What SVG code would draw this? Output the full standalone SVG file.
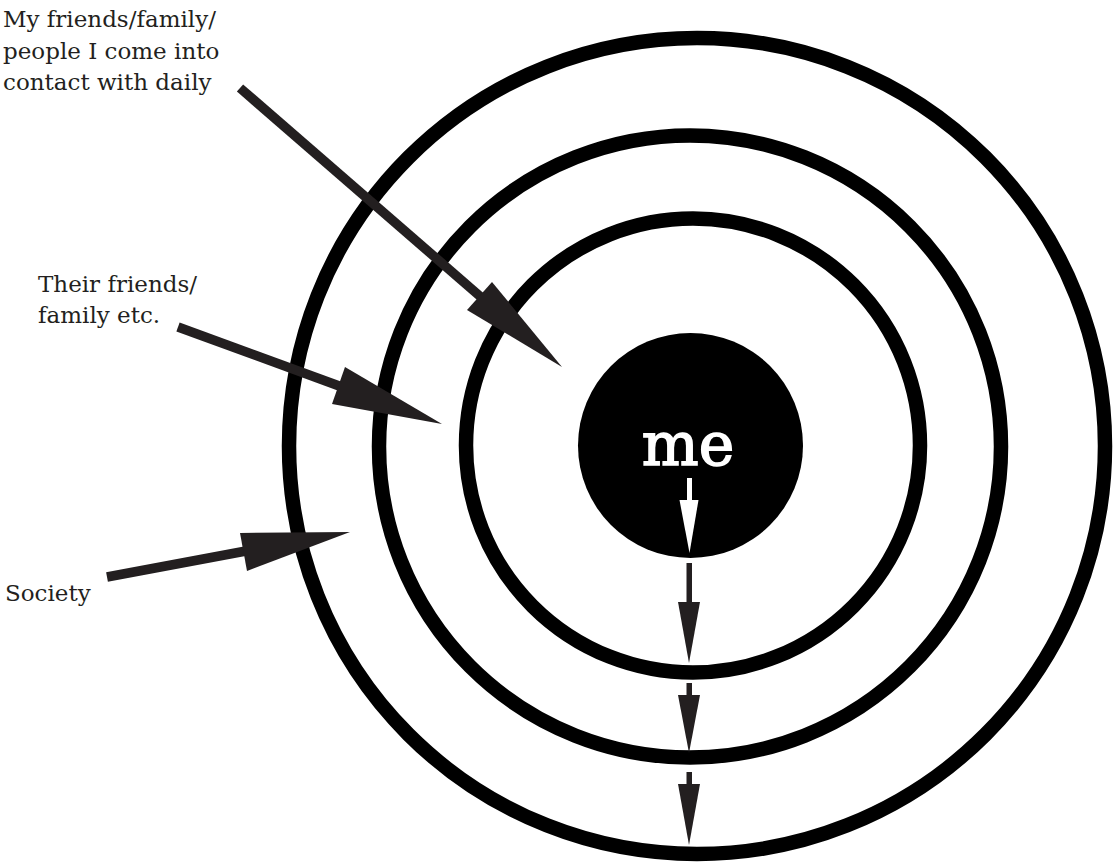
<svg xmlns="http://www.w3.org/2000/svg" width="1113" height="864" viewBox="0 0 1113 864">
<style>
.ring{fill:none;stroke:#000;stroke-width:14.5}
.lbl{font-family:"DejaVu Serif","Liberation Serif",serif;font-size:23px;fill:#231f20}
.shaft{stroke:#231f20;stroke-width:9.5;fill:none}
.head{fill:#231f20}
.sshaft{fill:#231f20}
</style>
<rect width="1113" height="864" fill="#fff"/>
<g id="ring-society"><circle class="ring" cx="697" cy="446" r="408"/></g>
<g id="ring-their"><circle class="ring" cx="690" cy="446.5" r="311"/></g>
<g id="ring-friends"><circle class="ring" cx="693" cy="445.5" r="227"/></g>
<g id="me">
<circle cx="690.5" cy="445.5" r="112.5" fill="#000"/>
<text x="688" y="465" text-anchor="middle" font-family="DejaVu Serif,'Liberation Serif',serif" font-size="60" fill="#fff" stroke="#fff" stroke-width="1.6">me</text>
</g>
<g id="label-friends">
<text class="lbl" x="3" y="27">My friends/family/</text>
<text class="lbl" x="3" y="58.5">people I come into</text>
<text class="lbl" x="3" y="90">contact with daily</text>
</g>
<g id="label-their">
<text class="lbl" x="38" y="292">Their friends/</text>
<text class="lbl" x="38" y="323">family etc.</text>
</g>
<g id="label-society">
<text class="lbl" x="5" y="601">Society</text>
</g>
<g id="connectors">
<line class="shaft" x1="240" y1="88" x2="482" y2="298"/>
<polygon class="head" points="467,310 492,282 562,367"/>
<line class="shaft" x1="178" y1="327" x2="342" y2="387"/>
<polygon class="head" points="345,367 332,404 442,424"/>
<line class="shaft" x1="107" y1="577" x2="246" y2="551"/>
<polygon class="head" points="240,533 247,571 350,532"/>
<rect x="687" y="478" width="5" height="24" fill="#fff"/>
<polygon points="679.5,500 698.5,500 689.5,553" fill="#fff"/>
<rect class="sshaft" x="686.5" y="563" width="5.5" height="41"/>
<polygon class="head" points="678,602 700,602 689,663"/>
<rect class="sshaft" x="686.5" y="683" width="5.5" height="14"/>
<polygon class="head" points="678,695 700,695 689,753"/>
<rect class="sshaft" x="686.5" y="772" width="5.5" height="14"/>
<polygon class="head" points="678,784 700,784 689,845"/>
</g>
</svg>
